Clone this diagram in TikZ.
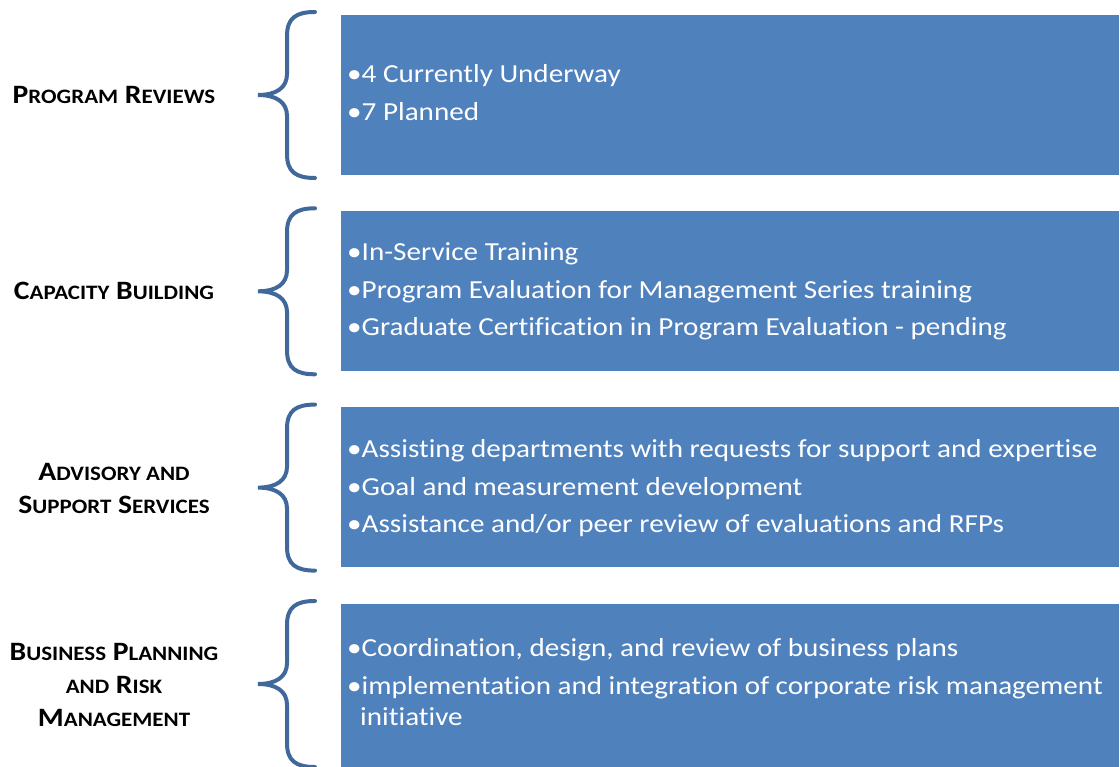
\documentclass[tikz,border=0pt]{standalone}
\usepackage{fontspec}
\setmainfont{Carlito}[FakeStretch=1.12,Ligatures=NoCommon]
\definecolor{boxblue}{HTML}{4F81BD}
\definecolor{bracecol}{RGB}{65,104,155}
\newcommand\scA[1]{{\fontsize{26.5}{33}\selectfont #1}}
\newcommand\scB[1]{{\fontsize{20.5}{33}\selectfont #1}}
\begin{document}
\begin{tikzpicture}[x=1pt,y=-1pt,
  infobox/.style={fill=boxblue,draw=none},
  bullettext/.style={anchor=base west,inner sep=0pt,text=white,font=\fontsize{26}{31}\selectfont},
  catlabel/.style={align=center,inner sep=0pt,font=\bfseries\fontsize{26.5}{33}\selectfont},
  bracepath/.style={draw=bracecol,line width=4pt,line cap=round}]
\useasboundingbox (0,0) rectangle (1120,767);
% row offsets
\foreach \dy/\n in {0/1,196.3/2,392.6/3,589/4}{
  \coordinate (bt\n) at (315,12+\dy);
  \coordinate (bm\n) at (258,95+\dy);
  \coordinate (bb\n) at (315,178+\dy);
  \draw[bracepath] (bt\n) .. controls (296,12+\dy) and (287,18+\dy) .. (287,36+\dy)
     -- (287,74+\dy) .. controls (287,88+\dy) and (276,95+\dy) .. (bm\n)
     .. controls (276,95+\dy) and (287,102+\dy) .. (287,116+\dy)
     -- (287,154+\dy) .. controls (287,172+\dy) and (296,178+\dy) .. (bb\n);
}
\fill[infobox] (341,15) rectangle (1119,175) coordinate (box1);
\fill[infobox] (341,211) rectangle (1119,371) coordinate (box2);
\fill[infobox] (341,407) rectangle (1119,567) coordinate (box3);
\fill[infobox] (341,604) rectangle (1119,767) coordinate (box4);
% labels
\node[catlabel] (l1) at (114,95) {\scA{P}\scB{ROGRAM} \scA{R}\scB{EVIEWS}};
\node[catlabel] (l2) at (114,291) {\scA{C}\scB{APACITY} \scA{B}\scB{UILDING}};
\node[catlabel] (l3) at (114,488) {\scA{A}\scB{DVISORY AND}\\\scA{S}\scB{UPPORT} \scA{S}\scB{ERVICES}};
\node[catlabel] (l4) at (114,685) {\scA{B}\scB{USINESS} \scA{P}\scB{LANNING}\\\scB{AND} \scA{R}\scB{ISK}\\\scA{M}\scB{ANAGEMENT}};
% box texts
\node[bullettext] (t11) at (347,83) {•4 Currently Underway};
\node[bullettext] (t12) at (347,121) {•7 Planned};
\node[bullettext] (t21) at (347,261) {•In-Service Training};
\node[bullettext] (t22) at (347,299) {•Program Evaluation for Management Series training};
\node[bullettext] (t23) at (347,336) {•Graduate Certification in Program Evaluation - pending};
\node[bullettext] (t31) at (347,457) {•Assisting departments with requests for support and expertise};
\node[bullettext] (t32) at (347,495) {•Goal and measurement development};
\node[bullettext] (t33) at (347,532) {•Assistance and/or peer review of evaluations and RFPs};
\node[bullettext] (t41) at (347,656) {•Coordination, design, and review of business plans};
\node[bullettext] (t42) at (347,694) {•implementation and integration of corporate risk management};
\node[bullettext] (t43) at (360,725) {initiative};
\end{tikzpicture}
\end{document}
